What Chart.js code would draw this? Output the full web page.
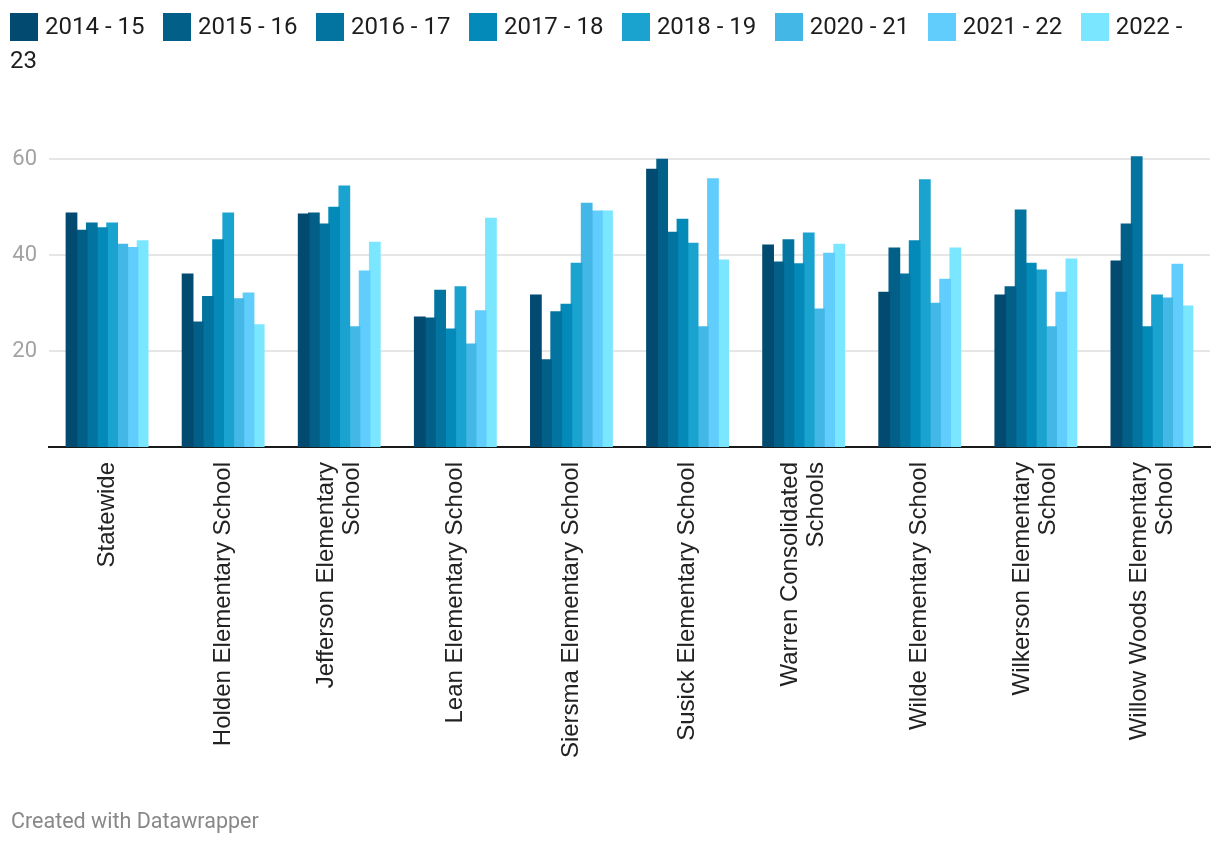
<!DOCTYPE html>
<html>
<head>
<meta charset="utf-8">
<script src="https://cdn.jsdelivr.net/npm/chart.js@4"></script>
<style>
  html, body { margin: 0; padding: 0; background: #fff; }
  body { width: 1220px; height: 844px; position: relative; overflow: hidden; }
  #chart { position: absolute; left: 0; top: 0; }
  #legend {
    position: absolute; left: 10px; top: 9px; width: 1200px;
    font-family: Roboto, sans-serif; font-size: 24px; line-height: 34px; color: #1d1d1d;
  }
  #legend .item { margin-right: 18.5px; }
  #legend .sw {
    display: inline-block; width: 28px; height: 28px; margin-right: 7px; vertical-align: -7px;
  }
  #footer {
    position: absolute; left: 11px; top: 808px;
    font-family: Roboto, sans-serif; font-size: 21.5px; color: #888;
  }
</style>
</head>
<body>
<canvas id="chart" width="1220" height="844"></canvas>
<div id="legend"></div>
<div id="footer">Created with Datawrapper</div>
<script>
// categories (two-line labels are arrays)
var schools = [
  ["Statewide"],
  ["Holden Elementary School"],
  ["Jefferson Elementary", "School"],
  ["Lean Elementary School"],
  ["Siersma Elementary School"],
  ["Susick Elementary School"],
  ["Warren Consolidated", "Schools"],
  ["Wilde Elementary School"],
  ["Wilkerson Elementary", "School"],
  ["Willow Woods Elementary", "School"]
];

var years = ["2014 - 15", "2015 - 16", "2016 - 17", "2017 - 18", "2018 - 19", "2020 - 21", "2021 - 22", "2022 - 23"];
var colors = ["#024a70", "#025f88", "#0373a0", "#038ab8", "#1ba3d0", "#43b8e6", "#60cdfd", "#7be6ff"];

// values, one array per school year
var y1415 = [48.7, 36.0, 48.5, 27.0, 31.6, 57.8, 42.0, 32.2, 31.6, 38.7];
var y1516 = [45.1, 26.0, 48.7, 26.8, 18.1, 59.9, 38.5, 41.4, 33.3, 46.4];
var y1617 = [46.6, 31.3, 46.4, 32.6, 28.1, 44.7, 43.1, 36.0, 49.3, 60.4];
var y1718 = [45.6, 43.1, 49.9, 24.5, 29.7, 47.4, 38.1, 42.9, 38.2, 25.0];
var y1819 = [46.6, 48.7, 54.3, 33.3, 38.2, 42.4, 44.5, 55.6, 36.8, 31.6];
var y2021 = [42.2, 30.8, 25.0, 21.4, 50.7, 25.0, 28.7, 29.9, 25.0, 31.0];
var y2122 = [41.5, 32.0, 36.6, 28.3, 49.1, 55.8, 40.3, 34.9, 32.2, 38.0];
var y2223 = [42.9, 25.4, 42.6, 47.6, 49.1, 38.9, 42.2, 41.4, 39.1, 29.3];

var yTicks = [20, 40, 60];

var series = [y1415, y1516, y1617, y1718, y1819, y2021, y2122, y2223];

// html legend, so the last label wraps like the original
var legend = document.getElementById("legend");
years.forEach(function (yr, i) {
  var item = document.createElement("span");
  item.className = "item";
  var sw = document.createElement("span");
  sw.className = "sw";
  sw.style.background = colors[i];
  item.appendChild(sw);
  item.appendChild(document.createTextNode(yr));
  legend.appendChild(item);
});

// draws the rotated category labels, centred on each group
var xLabels = {
  id: "xLabels",
  afterDraw: function (chart) {
    var ctx = chart.ctx;
    var xs = chart.scales.x;
    var lh = 26;
    ctx.save();
    ctx.font = "24px 'Liberation Sans', Arial, sans-serif";
    ctx.fillStyle = "#222";
    ctx.textAlign = "right";
    ctx.textBaseline = "middle";
    schools.forEach(function (lines, i) {
      var x = xs.getPixelForTick(i);
      ctx.save();
      ctx.translate(x, chart.chartArea.bottom + 15);
      ctx.rotate(-Math.PI / 2);
      lines.forEach(function (line, j) {
        ctx.fillText(line, 0, (j - (lines.length - 1) / 2) * lh);
      });
      ctx.restore();
    });
    ctx.restore();
  }
};

new Chart(document.getElementById("chart"), {
  type: "bar",
  data: {
    labels: schools.map(function (s) { return s.join(" "); }),
    datasets: years.map(function (yr, i) {
      return {
        label: yr,
        data: series[i],
        backgroundColor: colors[i],
        borderWidth: 0,
        inflateAmount: 0.8,
        categoryPercentage: 0.7,
        barPercentage: 1.0
      };
    })
  },
  options: {
    responsive: false,
    animation: false,
    layout: { padding: { top: 139.8, right: 10, left: 0, bottom: 0 } },
    plugins: {
      legend: { display: false },
      tooltip: { enabled: false }
    },
    scales: {
      x: {
        grid: { display: false },
        border: { display: true, color: "#1a1a1a", width: 2 },
        ticks: { display: false },
        afterFit: function (scale) { scale.height = 397; }
      },
      y: {
        min: 0,
        max: 64,
        afterBuildTicks: function (scale) {
          scale.ticks = yTicks.map(function (v) { return { value: v }; });
        },
        afterFit: function (scale) { scale.width = 49; },
        border: { display: false },
        grid: { color: "#e6e6e6", lineWidth: 2, drawTicks: false },
        ticks: {
          padding: 12,
          color: "#a3a3a3",
          font: { family: "Roboto", size: 22 }
        }
      }
    }
  },
  plugins: [xLabels]
});
</script>
</body>
</html>
